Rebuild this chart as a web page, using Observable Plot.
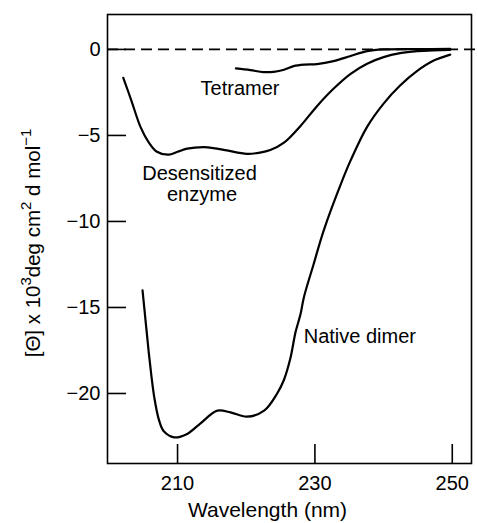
<!DOCTYPE html>
<html><head><meta charset="utf-8">
<script src="https://cdn.jsdelivr.net/npm/d3@7"></script>
<script src="https://cdn.jsdelivr.net/npm/@observablehq/plot@0.6"></script>
<style>html,body{margin:0;padding:0;background:#fff} svg{display:block}</style>
</head><body><div id="chart"></div>
<script>
// Native dimer
const nativeWl  = [204.9, 205.4, 205.8, 206.2, 206.6, 207.3, 208.0, 209.5, 211.4, 213.3, 215.8, 217.7, 220.1, 222.6, 224.5, 225.5, 226.4, 227.2, 227.9, 228.4, 229.8, 231.3, 234.0, 235.2, 237.6, 240.0, 242.4, 244.9, 247.3, 249.7];
const nativeVal = [-14.0, -16.0, -17.6, -19.0, -20.2, -21.55, -22.2, -22.55, -22.35, -21.75, -21.0, -21.1, -21.35, -21.0, -20.0, -19.2, -18.0, -16.4, -15.4, -14.4, -12.5, -10.5, -7.6, -6.45, -4.5, -3.15, -2.1, -1.25, -0.65, -0.3];
// Desensitized enzyme
const desWl  = [202.1, 203.3, 204.6, 205.8, 207.0, 208.7, 210.0, 211.4, 213.8, 215.5, 217.2, 220.1, 222.0, 223.5, 225.5, 227.9, 230.3, 232.7, 235.2, 237.6, 240.0, 242.4, 244.9, 247.3, 249.7];
const desVal = [-1.65, -3.0, -4.5, -5.4, -5.95, -6.12, -5.95, -5.77, -5.68, -5.75, -5.87, -6.07, -6.0, -5.85, -5.42, -4.45, -3.3, -2.29, -1.42, -0.83, -0.45, -0.22, -0.1, -0.05, -0.03];
// Tetramer
const tetWl  = [218.5, 220.6, 222.5, 224.0, 225.5, 226.9, 228.5, 230.3, 232.7, 235.2, 237.6, 240.0, 245.0, 249.7];
const tetVal = [-1.1, -1.2, -1.32, -1.3, -1.18, -0.97, -0.88, -0.85, -0.68, -0.38, -0.1, 0, 0.02, 0.03];

const xTicks = [210, 230, 250];
const yTicks = [0, -5, -10, -15, -20];

const labelText = ["Tetramer", "Desensitized", "enzyme"];
const labelWl   = [219.1, 213.2, 213.56];
const labelVal  = [-2.30, -7.24, -8.41];
const nativeLabel = {text: "Native dimer", wl: 228.37, val: -16.72};

const xLabel = "Wavelength (nm)";

const toRows = (xs, ys) => xs.map((x, i) => ({x, y: ys[i]}));
const native = toRows(nativeWl, nativeVal);
const des = toRows(desWl, desVal);
const tet = toRows(tetWl, tetVal);
const labels = labelText.map((t, i) => ({t, x: labelWl[i], y: labelVal[i]}));

const font = "'Liberation Sans', Arial, sans-serif";
const plot = Plot.plot({
  width: 478, height: 523,
  marginLeft: 107, marginRight: 7, marginTop: 14, marginBottom: 60,
  x: {domain: [199.8, 252.8]},
  y: {domain: [-24.07, 2.03]},
  style: {fontFamily: font, background: "white", color: "black"},
  marks: [
    Plot.ruleY([0], {strokeDasharray: "11,6", strokeWidth: 1.6, insetRight: -7}),
    Plot.tickY(yTicks, {y: d => d, insetRight: 345, strokeWidth: 1.6}),
    Plot.tickX(xTicks, {x: d => d, insetTop: 430, strokeWidth: 1.6}),
    Plot.axisY(yTicks, {tickSize: 0, tickPadding: 7, fontSize: 20, label: null}),
    Plot.axisX(xTicks, {tickSize: 0, tickPadding: 12, fontSize: 20, label: null}),
    Plot.line(native, {x: "x", y: "y", curve: "catmull-rom", strokeWidth: 2.2}),
    Plot.line(des, {x: "x", y: "y", curve: "catmull-rom", strokeWidth: 2.2}),
    Plot.line(tet, {x: "x", y: "y", curve: "catmull-rom", strokeWidth: 2.2}),
    Plot.text(labels, {x: "x", y: "y", text: "t", fontSize: 20, textAnchor: "middle", lineAnchor: "middle"}),
    Plot.text([nativeLabel], {x: "wl", y: "val", text: "text", fontSize: 20, textAnchor: "start", lineAnchor: "middle"}),
    Plot.text([xLabel], {frameAnchor: "bottom", dx: -22, dy: 53, lineAnchor: "bottom", fontSize: 21}),
    Plot.frame({stroke: "black", strokeWidth: 1.6})
  ]
});
document.getElementById("chart").appendChild(plot);

// y-axis label with superscripts
const svg = d3.select(plot);
const t = svg.append("text")
  .attr("transform", "translate(40,243) rotate(-90)")
  .attr("text-anchor", "middle")
  .attr("font-family", font)
  .attr("font-size", 20.5)
  .attr("fill", "black");
const parts = [["[Θ] x 10", 0], ["3", 1], ["deg cm", 0], ["2", 1], [" d mol", 0], ["−1", 1]];
let up = false;
for (const [s, sup] of parts) {
  const ts = t.append("tspan").text(s);
  if (sup && !up) { ts.attr("dy", -9).attr("font-size", 15); up = true; }
  else if (sup) { ts.attr("font-size", 15); }
  else if (up) { ts.attr("dy", 9); up = false; }
}
</script>
</body></html>
